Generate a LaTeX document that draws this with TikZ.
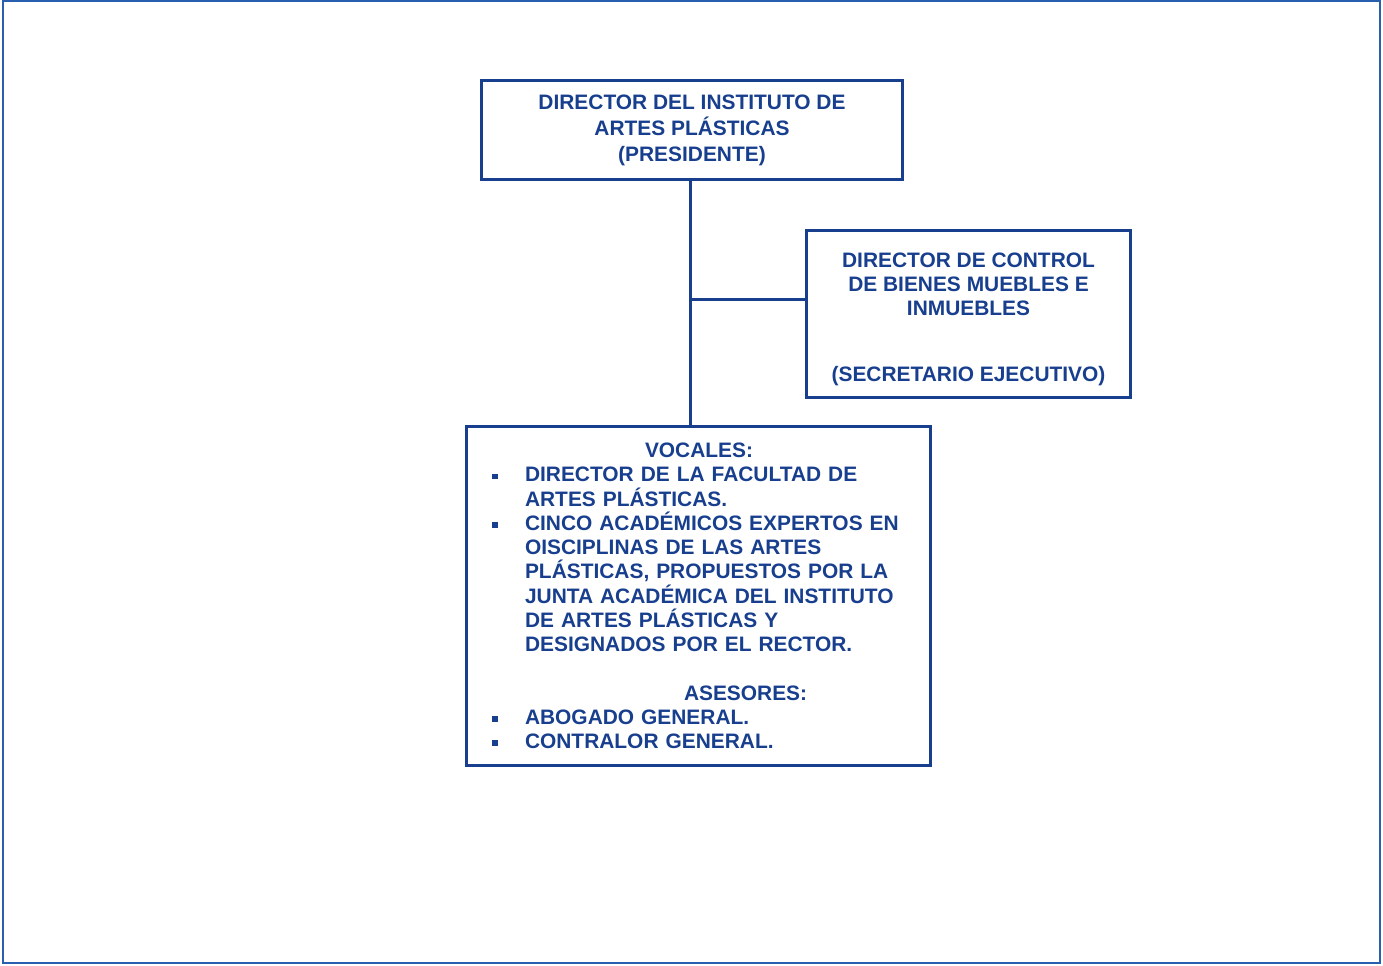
\documentclass[tikz,border=0pt]{standalone}
\usepackage{fontspec}
\setmainfont{Liberation Sans}
\usetikzlibrary{calc}
\definecolor{azul}{RGB}{24,62,142}
\definecolor{marco}{RGB}{40,95,175}
\newcommand{\punto}{\makebox[0.66cm][l]{\raisebox{0.25ex}{\rule{0.11cm}{0.11cm}}}}
\newcommand{\sangria}{\hspace*{0.66cm}}

\begin{document}
\begin{tikzpicture}[x=0.02cm,y=-0.02cm,
		caja/.style={draw=azul, line width=1.7pt, text=azul, font=\fontsize{11.9}{13.8}\selectfont\bfseries, align=center},
		linea/.style={draw=azul, line width=1.7pt}]
				\useasboundingbox (0,0) rectangle (1383,966);
				\draw[marco, line width=1pt] (3,1) rectangle (1380,963);
				
				\node[caja, minimum width=8.44cm, minimum height=2cm] (presidente) at (692,130)
					{DIRECTOR DEL INSTITUTO DE\\[1pt]ARTES PLÁSTICAS\\[1pt](PRESIDENTE)};
				
				\node[caja, minimum width=6.5cm, minimum height=3.36cm] (secretario) at (968.5,314)
					{\rule{0pt}{0.5cm}DIRECTOR DE CONTROL\\DE BIENES MUEBLES E\\INMUEBLES\\[0.82cm](SECRETARIO EJECUTIVO)};
				
				\node[caja, align=left, text width=8.26cm, inner xsep=0.52cm, minimum height=6.8cm] (vocales) at (698.5,596)
					{\hspace*{3.06cm}VOCALES:\\
					\punto DIRECTOR DE LA FACULTAD DE\\
					\sangria ARTES PLÁSTICAS.\\
					\punto CINCO ACADÉMICOS EXPERTOS EN\\
					\sangria OISCIPLINAS DE LAS ARTES\\
					\sangria PLÁSTICAS, PROPUESTOS POR LA\\
					\sangria JUNTA ACADÉMICA DEL INSTITUTO\\
					\sangria DE ARTES PLÁSTICAS Y\\
					\sangria DESIGNADOS POR EL RECTOR.\\[13.8pt]
					\hspace*{3.84cm}ASESORES:\\
					\punto ABOGADO GENERAL.\\
					\punto CONTRALOR GENERAL.};
				
				\coordinate (arriba) at ($(presidente.south)+(-2,0)$);
				\coordinate (union) at ($(arriba)+(0,118)$);
				\draw[linea] (arriba) -- (arriba |- vocales.north);
				\draw[linea] (union) -- (union -| secretario.west);
			\end{tikzpicture}
\end{document}
